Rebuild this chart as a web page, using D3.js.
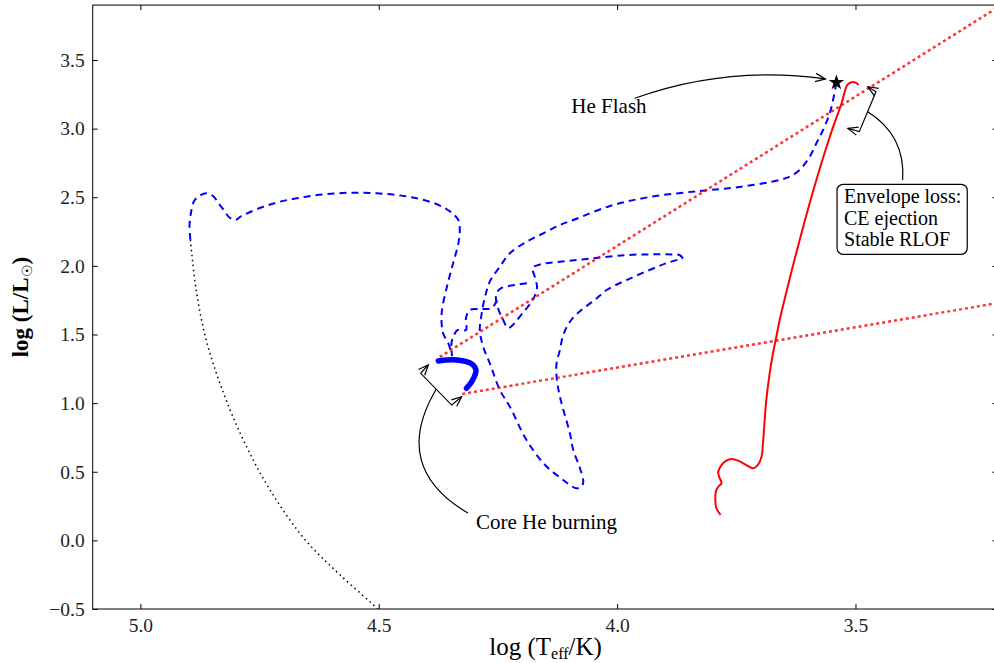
<!DOCTYPE html>
<html>
<head>
<meta charset="utf-8">
<script src="https://cdn.jsdelivr.net/npm/d3@7"></script>
<style>
  body { margin: 0; background: #fff; }
  svg { display: block; }
  text { font-family: "Liberation Serif", "DejaVu Serif", serif; }
</style>
</head>
<body>
<svg id="chart" width="994" height="663"></svg>
<script>
// ---- data: [log Teff, log L] ----
var xTicks = [5.0, 4.5, 4.0, 3.5];
var yTicks = [-0.5, 0.0, 0.5, 1.0, 1.5, 2.0, 2.5, 3.0, 3.5];

// helium main sequence (black dotted)
var heZams = [[4.895,2.189],[4.883,1.825],[4.862,1.460],[4.828,1.096],[4.784,0.731],
  [4.728,0.367],[4.654,0.003],[4.581,-0.252],[4.501,-0.507],[4.49,-0.56]];

// blue dashed tracks
var blueLoop = [[4.895,2.189],[4.897,2.285],[4.894,2.383],[4.888,2.468],[4.874,2.516],[4.860,2.529],
  [4.846,2.504],[4.836,2.456],[4.825,2.407],[4.815,2.358],[4.801,2.334],[4.790,2.358],[4.773,2.387],
  [4.742,2.431],[4.707,2.468],[4.672,2.492],[4.630,2.516],[4.588,2.529],[4.546,2.533],[4.504,2.529],
  [4.462,2.516],[4.420,2.492],[4.378,2.449],[4.350,2.395],[4.333,2.334],[4.330,2.261],[4.333,2.164],
  [4.344,2.019],[4.357,1.848],[4.368,1.654],[4.365,1.509],[4.354,1.436],[4.348,1.372]];
var blueMain = [[3.540,3.335],[3.547,3.209],[3.554,3.112],[3.568,2.990],[3.582,2.893],[3.596,2.795],
  [3.617,2.699],[3.638,2.650],[3.659,2.626],[3.743,2.575],[3.827,2.546],[3.932,2.502],[4.015,2.436],
  [4.092,2.334],[4.120,2.298],[4.155,2.237],[4.190,2.176],[4.225,2.092],[4.246,1.994],[4.267,1.885],
  [4.277,1.775],[4.284,1.654],[4.288,1.533],[4.281,1.411],[4.267,1.290],[4.246,1.096],[4.225,0.974],
  [4.190,0.731],[4.151,0.549],[4.113,0.440],[4.099,0.403],[4.085,0.379],[4.075,0.391],[4.071,0.428],
  [4.078,0.527],[4.092,0.658],[4.099,0.780],[4.120,1.047],[4.127,1.193],[4.127,1.290],[4.120,1.387],
  [4.113,1.496],[4.099,1.593],[4.075,1.679],[4.047,1.751],[4.022,1.824],[3.980,1.897],[3.932,1.970],
  [3.897,2.019],[3.862,2.055]];
var blueUpper = [[3.862,2.055],[3.869,2.079],[3.883,2.083],[3.925,2.084],[3.980,2.079],[4.051,2.055],
  [4.120,2.030],[4.162,2.010],[4.177,1.985],[4.172,1.912],[4.168,1.839],[4.177,1.751],[4.198,1.657],
  [4.221,1.562],[4.229,1.547],[4.239,1.606],[4.250,1.693],[4.254,1.781],[4.246,1.832],[4.214,1.861],
  [4.183,1.875]];
var blueInner = [[4.252,1.751],[4.263,1.693],[4.288,1.686],[4.309,1.679],[4.317,1.620],[4.317,1.533],
  [4.334,1.533],[4.344,1.482],[4.348,1.416],[4.346,1.343]];

// core helium burning (thick blue)
var coreBurn = [[4.375,1.307],[4.357,1.314],[4.336,1.314],[4.316,1.302],[4.302,1.278],[4.296,1.241],
  [4.298,1.205],[4.305,1.156],[4.316,1.108]];

// red giant branch (red solid)
var rgb = [[3.783,0.185],[3.792,0.236],[3.794,0.294],[3.793,0.355],[3.788,0.391],[3.781,0.416],
  [3.786,0.464],[3.788,0.500],[3.781,0.549],[3.771,0.581],[3.760,0.593],[3.746,0.581],[3.729,0.549],
  [3.715,0.525],[3.705,0.549],[3.697,0.610],[3.694,0.707],[3.691,0.853],[3.687,1.023],[3.680,1.217],
  [3.673,1.363],[3.666,1.484],[3.659,1.606],[3.649,1.751],[3.628,2.043],[3.590,2.531],[3.554,2.939],
  [3.529,3.187],[3.517,3.318],[3.508,3.338],[3.498,3.332],[3.494,3.318]];

// red dotted links
var linkUpper = [[4.372,1.336],[3.2,3.887]];
var linkLower = [[4.325,1.067],[3.2,1.730]];

var heFlashStar = [3.540, 3.335];

// annotations
var heFlash = { text: "He Flash", at: [4.096,3.112], from: [3.963,3.221], to: [3.563,3.362], rad: 0.123 };
var coreHe = { text: "Core He burning", at: [4.296,0.081], from: [4.313,0.199],
  bracket: [[4.396,1.278],[4.412,1.217],[4.347,0.986],[4.326,1.047]], rad: 0.5 };
var envLoss = { lines: ["Envelope loss:", "CE ejection", "Stable RLOF"], at: [3.524,2.456], from: [3.401,2.626],
  bracket: [[3.474,3.305],[3.457,3.269],[3.492,2.978],[3.516,3.002]], rad: -0.3 };

// ---- drawing ----
var svg = d3.select("#chart");
var x = d3.scaleLinear().domain([5.1, 3.2]).range([92.7, 998.5]);
var y = d3.scaleLinear().domain([-0.5, 3.9]).range([609, 5.1]);
var x0 = x.range()[0], x1 = x.range()[1], yb = y.range()[0], yt = y.range()[1];

svg.append("clipPath").attr("id", "plot").append("rect")
  .attr("x", x0).attr("y", yt).attr("width", x1 - x0).attr("height", yb - yt);

var smooth = d3.line().x(function(d) { return x(d[0]); }).y(function(d) { return y(d[1]); })
  .curve(d3.curveCatmullRom.alpha(0.5));
var straight = d3.line().x(function(d) { return x(d[0]); }).y(function(d) { return y(d[1]); });

var plot = svg.append("g").attr("clip-path", "url(#plot)");

plot.append("path").datum(heZams).attr("d", smooth)
  .attr("fill", "none").attr("stroke", "#000").attr("stroke-width", 1.5).attr("stroke-dasharray", "1.5,3.5");

[blueLoop, blueMain, blueUpper, blueInner].forEach(function(tr) {
  plot.append("path").datum(tr).attr("d", smooth)
    .attr("fill", "none").attr("stroke", "#0000ff").attr("stroke-width", 2).attr("stroke-dasharray", "7,5");
});

plot.append("path").datum(coreBurn).attr("d", smooth)
  .attr("fill", "none").attr("stroke", "#0000ff").attr("stroke-width", 5.5).attr("stroke-linecap", "round");

[linkUpper, linkLower].forEach(function(l) {
  plot.append("path").datum(l).attr("d", straight)
    .attr("fill", "none").attr("stroke", "#ff0000").attr("stroke-opacity", 0.8)
    .attr("stroke-width", 2.5).attr("stroke-dasharray", "3,3");
});

plot.append("path").datum(rgb).attr("d", smooth)
  .attr("fill", "none").attr("stroke", "#ff0000").attr("stroke-width", 2);

plot.append("path").attr("d", d3.symbol().type(d3.symbolStar).size(75)())
  .attr("transform", "translate(" + x(heFlashStar[0]) + "," + y(heFlashStar[1]) + ")")
  .attr("fill", "#000");

// frame and ticks
svg.append("rect").attr("x", x0).attr("y", yt).attr("width", x1 - x0).attr("height", yb - yt)
  .attr("fill", "none").attr("stroke", "#000").attr("stroke-width", 1);

var fmt = d3.format(".1f");
function styleAxis(g) {
  g.select(".domain").remove();
  g.selectAll(".tick line").attr("stroke", "#000");
  g.selectAll(".tick text").attr("fill", "#222").attr("font-size", 19.5)
    .style("font-family", "'Liberation Serif', serif");
}
svg.append("g").attr("transform", "translate(0," + yb + ")")
  .call(d3.axisBottom(x).tickValues(xTicks).tickFormat(fmt).tickSize(-5).tickPadding(9)).call(styleAxis);
svg.append("g").attr("transform", "translate(0," + yt + ")")
  .call(d3.axisTop(x).tickValues(xTicks).tickFormat("").tickSize(-5)).call(styleAxis);
svg.append("g").attr("transform", "translate(" + x0 + ",0)")
  .call(d3.axisLeft(y).tickValues(yTicks).tickFormat(fmt).tickSize(-5).tickPadding(8)).call(styleAxis);
svg.append("g").attr("transform", "translate(" + x1 + ",0)")
  .call(d3.axisRight(y).tickValues(yTicks).tickFormat("").tickSize(-6)).call(styleAxis);

// axis titles
var xt = svg.append("text").attr("x", (x0 + x1) / 2).attr("y", 655).attr("text-anchor", "middle")
  .attr("font-size", 25).attr("fill", "#000");
xt.append("tspan").text("log (T");
xt.append("tspan").attr("font-size", 16).attr("dy", 4).text("eff");
xt.append("tspan").attr("dy", -4).text("/K)");

var yt2 = svg.append("text").attr("transform", "translate(28," + (yt + yb) / 2 + ") rotate(-90)")
  .attr("text-anchor", "middle").attr("font-size", 23).attr("font-weight", "bold").attr("fill", "#000");
yt2.append("tspan").text("log (L/L");
yt2.append("tspan").attr("font-size", 14).attr("dy", 4).attr("font-weight", "normal").text("\u2609");
yt2.append("tspan").attr("dy", -4).text(")");

// annotation helpers
function px(d) { return [x(d[0]), y(d[1])]; }
function ctrl(p0, p1, rad) {
  var dx = p1[0] - p0[0], dy = p1[1] - p0[1];
  return [(p0[0] + p1[0]) / 2 + rad * dy, (p0[1] + p1[1]) / 2 - rad * dx];
}
function head(tip, from) {
  var a = Math.atan2(tip[1] - from[1], tip[0] - from[0]), L = 10, W = 4.2;
  var bx = tip[0] - L * Math.cos(a), by = tip[1] - L * Math.sin(a);
  var ox = -Math.sin(a) * W, oy = Math.cos(a) * W;
  return "M" + (bx + ox) + "," + (by + oy) + "L" + tip[0] + "," + tip[1] + "L" + (bx - ox) + "," + (by - oy);
}
var ann = svg.append("g").attr("fill", "none").attr("stroke", "#000").attr("stroke-width", 1.2);

function curve(p0, p1, rad) {
  var c = ctrl(p0, p1, rad);
  ann.append("path").attr("d", "M" + p0 + "Q" + c + " " + p1);
  return c;
}
function bracket(b) {
  var p = b.map(px);
  ann.append("path").attr("d", "M" + p[0] + "L" + p[1] + "L" + p[2] + "L" + p[3]);
  ann.append("path").attr("d", head(p[0], p[1]));
  ann.append("path").attr("d", head(p[3], p[2]));
  return [(p[1][0] + p[2][0]) / 2, (p[1][1] + p[2][1]) / 2];
}

// He Flash
var hf0 = px(heFlash.from), hf1 = px(heFlash.to);
var hc = curve(hf0, hf1, heFlash.rad);
ann.append("path").attr("d", head(hf1, hc));
svg.append("text").attr("x", x(heFlash.at[0])).attr("y", y(heFlash.at[1]))
  .attr("font-size", 21).attr("fill", "#000").text(heFlash.text);

// Core He burning
var cm = bracket(coreHe.bracket);
curve(px(coreHe.from), cm, coreHe.rad);
svg.append("text").attr("x", x(coreHe.at[0])).attr("y", y(coreHe.at[1]))
  .attr("font-size", 21).attr("fill", "#000").text(coreHe.text);

// Envelope loss
var em = bracket(envLoss.bracket);
curve(px(envLoss.from), em, envLoss.rad);
var box = svg.append("g");
var et = box.append("text").attr("font-size", 20).attr("fill", "#000");
envLoss.lines.forEach(function(s, i) {
  et.append("tspan").attr("x", x(envLoss.at[0])).attr("y", y(envLoss.at[1]) + i * 21.5).text(s);
});
var bb = et.node().getBBox();
box.insert("rect", "text").attr("x", bb.x - 7).attr("y", bb.y - 1)
  .attr("width", bb.width + 13).attr("height", bb.height + 5).attr("rx", 6)
  .attr("fill", "#fff").attr("stroke", "#000").attr("stroke-width", 1.2);
</script>
</body>
</html>
